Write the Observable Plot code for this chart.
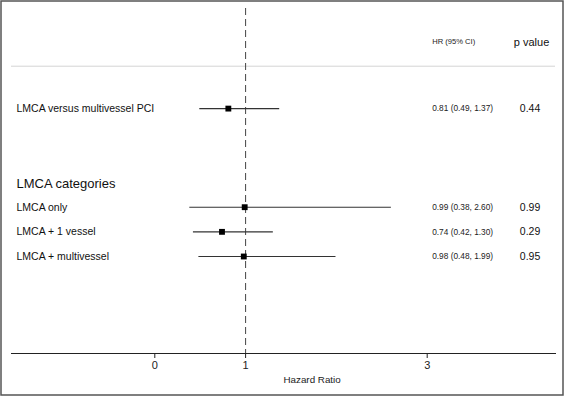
<!DOCTYPE html>
<html>
<head>
<meta charset="utf-8">
<script src="https://cdn.jsdelivr.net/npm/d3@7"></script>
<script src="https://cdn.jsdelivr.net/npm/@observablehq/plot@0.6"></script>
<style>
  html, body { margin: 0; padding: 0; background: #fff; }
</style>
</head>
<body>
<div id="chart"></div>
<script>
// ---- data ----
const rowLabels = ["LMCA versus multivessel PCI", "LMCA only", "LMCA + 1 vessel", "LMCA + multivessel"];
const hrValues  = [0.81, 0.99, 0.74, 0.98];
const ciLow     = [0.49, 0.38, 0.42, 0.48];
const ciHigh    = [1.37, 2.60, 1.30, 1.99];
const pValues   = ["0.44", "0.99", "0.29", "0.95"];
const rowIndex  = [3, 7, 8, 9];
const groupHeading = "LMCA categories";
const groupRow = 6.05;
const headerRow = 0.3;
const separatorRow = 1.28;
const xTicks = [0, 1, 3];
const xTickLabels = ["0", "1", "3"];
const referenceValue = 1;

const rows = rowLabels.map((label, i) => ({
  label, hr: hrValues[i], lo: ciLow[i], hi: ciHigh[i], p: pValues[i], row: rowIndex[i],
  ci: `${hrValues[i].toFixed(2)} (${ciLow[i].toFixed(2)}, ${ciHigh[i].toFixed(2)})`
}));

const border = (index, scales, values, dims) => {
  const r = document.createElementNS("http://www.w3.org/2000/svg", "rect");
  r.setAttribute("x", 1); r.setAttribute("y", 1);
  r.setAttribute("width", dims.width - 3); r.setAttribute("height", dims.height - 2);
  r.setAttribute("fill", "none"); r.setAttribute("stroke", "#555"); r.setAttribute("stroke-width", 1.5);
  return r;
};

const chart = Plot.plot({
  width: 565,
  height: 396,
  marginLeft: 11,
  marginRight: 10,
  marginTop: 0,
  marginBottom: 43,
  style: { fontFamily: "'Liberation Sans', Arial, Helvetica, sans-serif", background: "#fff", color: "#222" },
  x: { domain: [0, 3], range: [154.3, 426.7] },
  y: { domain: [0, 9], range: [34.15, 256], axis: null },
  marks: [
    border,
    Plot.ruleY([separatorRow], { stroke: "#d4d4d4", strokeWidth: 1 }),
    Plot.ruleX([referenceValue], { stroke: "#444", strokeWidth: 1, strokeDasharray: "7,4", insetTop: 8 }),
    Plot.frame({ anchor: "bottom", stroke: "#222", strokeWidth: 1 }),
    Plot.axisX(xTicks, { tickSize: 5, tickPadding: 3, fontSize: 11, label: null, tickFormat: (d, i) => xTickLabels[i] }),
    Plot.text(["Hazard Ratio"], { frameAnchor: "bottom", textAnchor: "start", dy: 29, fontSize: 9.8, fill: "#222" }),
    Plot.link(rows, { x1: "lo", x2: "hi", y1: "row", y2: "row", stroke: "#333", strokeWidth: 1.1 }),
    Plot.dot(rows, { x: "hr", y: "row", symbol: "square", r: 3.3, fill: "#000", stroke: null }),
    Plot.text(rows, { y: "row", text: "label", frameAnchor: "left", textAnchor: "start", dx: 5, fontSize: 10.5, fill: "#111" }),
    Plot.text([groupHeading], { y: [groupRow], text: d => d, frameAnchor: "left", textAnchor: "start", dx: 5, fontSize: 13, fill: "#111" }),
    Plot.text(rows, { y: "row", text: "ci", frameAnchor: "right", textAnchor: "start", dx: -123.3, fontSize: 8.3, fill: "#222" }),
    Plot.text(rows, { y: "row", text: "p", frameAnchor: "right", textAnchor: "start", dx: -35.7, fontSize: 10.5, fill: "#111" }),
    Plot.text(["HR (95% CI)"], { y: [headerRow], text: d => d, frameAnchor: "right", textAnchor: "start", dx: -123.3, fontSize: 7.6, fill: "#222" }),
    Plot.text(["p value"], { y: [headerRow], text: d => d, frameAnchor: "right", textAnchor: "start", dx: -41.7, fontSize: 11, fill: "#111" })
  ]
});
document.getElementById("chart").appendChild(chart);
</script>
</body>
</html>
